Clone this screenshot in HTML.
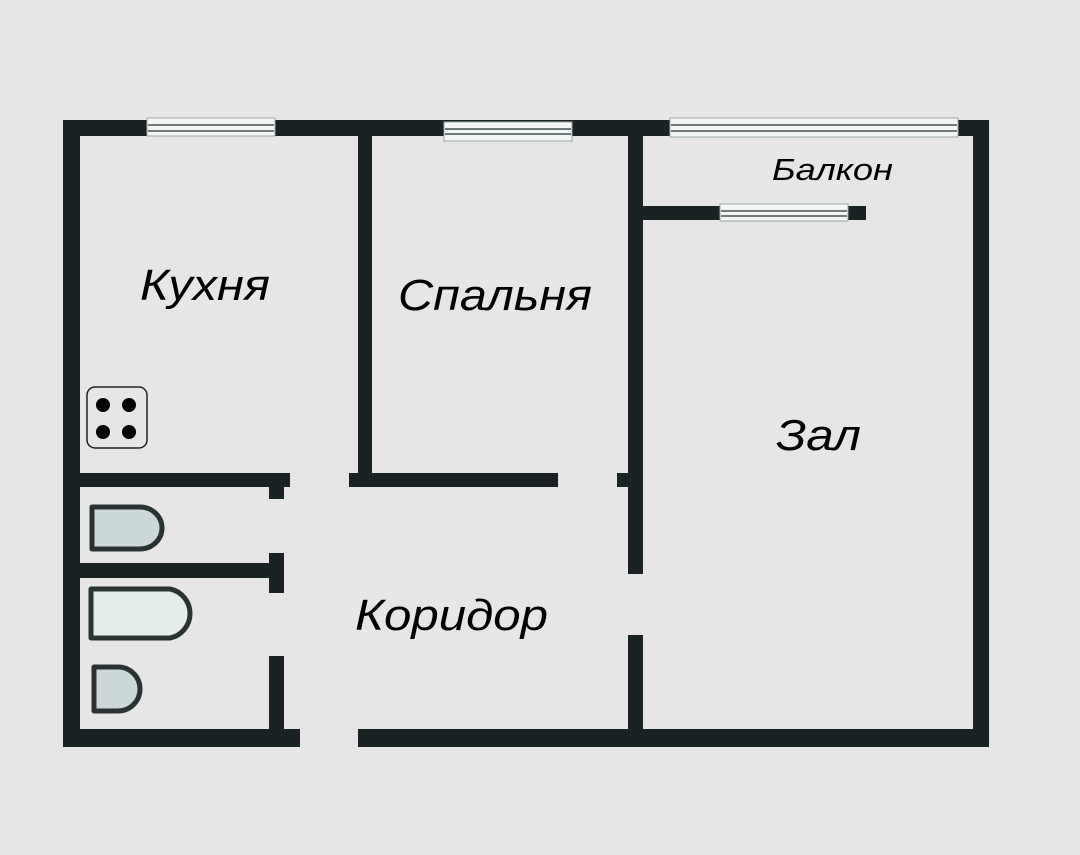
<!DOCTYPE html>
<html><head><meta charset="utf-8"><style>
html,body{margin:0;padding:0;background:#e6e6e6;}
svg{display:block}
text{font-family:"Liberation Sans",sans-serif;font-style:italic;fill:#000}
</style></head><body>
<svg width="1080" height="855" viewBox="0 0 1080 855" xmlns="http://www.w3.org/2000/svg">
<rect width="1080" height="855" fill="#e6e6e6"/>
<g fill="#1b2224">
<rect x="63" y="120" width="926" height="16"/>
<rect x="63" y="120" width="17" height="627"/>
<rect x="973" y="120" width="16" height="627"/>
<rect x="63" y="729" width="237" height="18"/>
<rect x="358" y="729" width="631" height="18"/>
<rect x="358" y="120" width="14" height="367"/>
<rect x="349" y="473" width="209" height="14"/>
<rect x="63" y="473" width="227" height="14"/>
<rect x="269" y="473" width="15" height="26"/>
<rect x="80" y="563" width="195" height="15"/>
<rect x="269" y="553" width="15" height="40"/>
<rect x="269" y="656" width="15" height="86"/>
<rect x="628" y="131" width="15" height="443"/>
<rect x="617" y="473" width="16" height="14"/>
<rect x="628" y="635" width="15" height="105"/>
<rect x="640" y="206" width="226" height="14"/>
</g>
<g stroke="#9aa6a6" stroke-width="1">
<rect x="147" y="118" width="128" height="18" fill="#f4f6f6"/>
<rect x="444" y="122" width="128" height="19" fill="#f4f6f6"/>
<rect x="670" y="118" width="288" height="19" fill="#f4f6f6"/>
<rect x="720" y="204" width="128" height="17" fill="#f4f6f6"/>
</g>
<g fill="#6f7a7a">
<rect x="148" y="124" width="126" height="2"/><rect x="148" y="130" width="126" height="2"/>
<rect x="445" y="128" width="126" height="2"/><rect x="445" y="133" width="126" height="2"/>
<rect x="671" y="124" width="286" height="2"/><rect x="671" y="130" width="286" height="2"/>
<rect x="721" y="210" width="126" height="2"/><rect x="721" y="215" width="126" height="2"/>
</g>
<rect x="87" y="387" width="60" height="61" rx="8" fill="none" stroke="#1b2224" stroke-width="1.5"/>
<g fill="#000"><circle cx="103" cy="405" r="7"/><circle cx="129" cy="405" r="7"/><circle cx="103" cy="432" r="7"/><circle cx="129" cy="432" r="7"/></g>
<g stroke="#2a3232" stroke-width="5" stroke-linejoin="round">
<path d="M92 507 H140 A22 21 0 0 1 140 549 H92 Z" fill="#ccd8d8"/>
<path d="M91 589 H170 A25 25 0 0 1 170 638 H91 Z" fill="#e4ecec"/>
<path d="M94 667 H118 A22 22 0 0 1 118 711 H94 Z" fill="#ccd8d8"/>
</g>
<text x="140" y="300" font-size="44" textLength="130" lengthAdjust="spacingAndGlyphs">Кухня</text>
<text x="398" y="310" font-size="44" textLength="194" lengthAdjust="spacingAndGlyphs">Спальня</text>
<text x="772" y="180" font-size="31" textLength="121" lengthAdjust="spacingAndGlyphs">Балкон</text>
<text x="776" y="450" font-size="44" textLength="85" lengthAdjust="spacingAndGlyphs">Зал</text>
<text x="355" y="630" font-size="44" textLength="193" lengthAdjust="spacingAndGlyphs">Коридор</text>
</svg>
</body></html>
